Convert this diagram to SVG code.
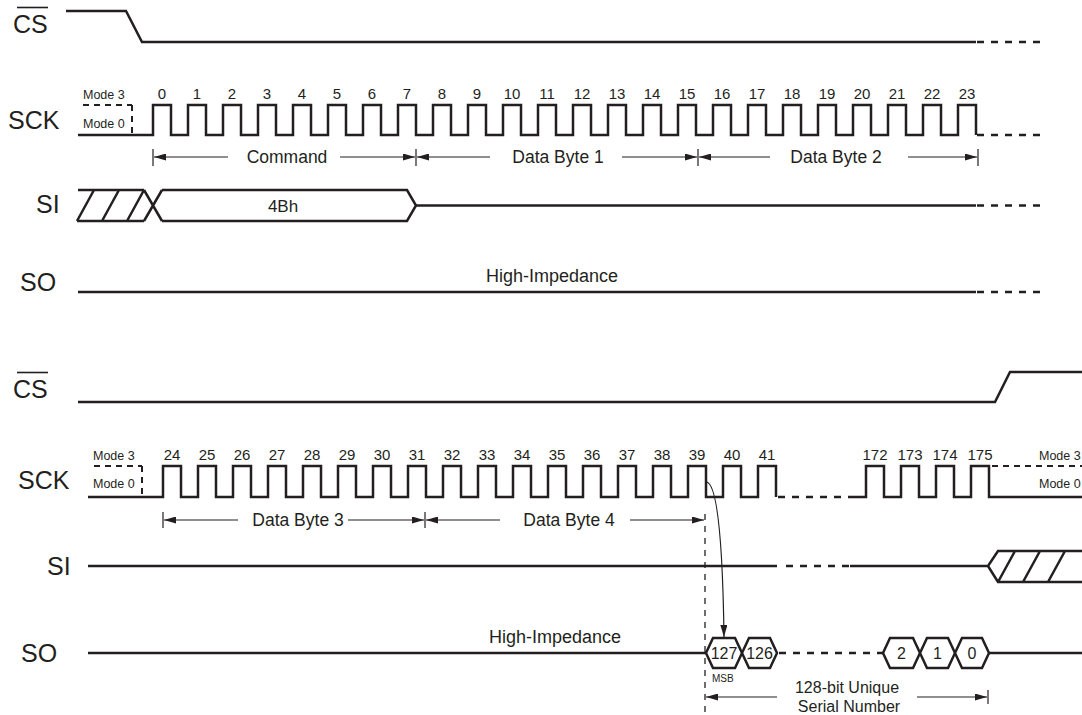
<svg xmlns="http://www.w3.org/2000/svg" width="1082" height="715" viewBox="0 0 1082 715">
<style>
text{font-family:"Liberation Sans",Arial,sans-serif;fill:#231f20}
.lbl{font-size:25px}
.num{font-size:15px;text-anchor:middle}
.mode{font-size:12.5px}
.dim{font-size:17.5px;text-anchor:middle}
.hz{font-size:18px;text-anchor:middle}
.hx{font-size:16px;text-anchor:middle}
.sig{fill:none;stroke:#231f20;stroke-width:2.5;stroke-linejoin:miter}
.dsh{fill:none;stroke:#231f20;stroke-width:2.5;stroke-dasharray:7 7}
.mdash{fill:none;stroke:#231f20;stroke-width:2;stroke-dasharray:6 5}
.ar{fill:none;stroke:#231f20;stroke-width:1.2;marker-end:url(#ah)}
.bar{fill:none;stroke:#231f20;stroke-width:1.2}
.vd{fill:none;stroke:#231f20;stroke-width:1.3;stroke-dasharray:6 6}
.hex{fill:#fff;stroke:#231f20;stroke-width:2.5;stroke-linejoin:miter}
</style>
<defs>
<marker id="ah" viewBox="0 0 12 7" refX="12" refY="3.5" markerWidth="12" markerHeight="7" markerUnits="userSpaceOnUse" orient="auto">
<path d="M0,0 L12,3.5 L0,7 z" fill="#231f20"/>
</marker>
</defs>
<rect width="1082" height="715" fill="#fff"/>

<g id="cs1">
<text class="lbl" x="13" y="33">CS</text>
<line x1="17" y1="7.5" x2="48" y2="7.5" stroke="#231f20" stroke-width="1.6"/>
<path class="sig" d="M66 11 H126 L142 42 H976"/>
<path class="dsh" d="M977 42 H1044"/>
</g>

<g id="sck1">
<text class="lbl" x="8" y="129">SCK</text>
<text class="mode" x="83" y="99">Mode 3</text>
<text class="mode" x="83" y="128">Mode 0</text>
<path class="mdash" d="M83 105 H132"/>
<path class="mdash" d="M132 105 V135" stroke-dasharray="5 4"/>
<path class="sig" d="M78 135 H153 V105 H171 V135 H188 V105 H206 V135 H223 V105 H241 V135 H258 V105 H276 V135 H293 V105 H311 V135 H328 V105 H346 V135 H363 V105 H381 V135 H398 V105 H416 V135 H433 V105 H451 V135 H468 V105 H486 V135 H503 V105 H521 V135 H538 V105 H556 V135 H573 V105 H591 V135 H608 V105 H626 V135 H643 V105 H661 V135 H678 V105 H696 V135 H713 V105 H731 V135 H748 V105 H766 V135 H783 V105 H801 V135 H818 V105 H836 V135 H853 V105 H871 V135 H888 V105 H906 V135 H923 V105 H941 V135 H958 V105 H976 V135"/>
<path class="dsh" d="M977 135 H1040"/>
<text class="num" x="162" y="99">0</text><text class="num" x="197" y="99">1</text><text class="num" x="232" y="99">2</text><text class="num" x="267" y="99">3</text><text class="num" x="302" y="99">4</text><text class="num" x="337" y="99">5</text><text class="num" x="372" y="99">6</text><text class="num" x="407" y="99">7</text><text class="num" x="442" y="99">8</text><text class="num" x="477" y="99">9</text><text class="num" x="512" y="99">10</text><text class="num" x="547" y="99">11</text><text class="num" x="582" y="99">12</text><text class="num" x="617" y="99">13</text><text class="num" x="652" y="99">14</text><text class="num" x="687" y="99">15</text><text class="num" x="722" y="99">16</text><text class="num" x="757" y="99">17</text><text class="num" x="792" y="99">18</text><text class="num" x="827" y="99">19</text><text class="num" x="862" y="99">20</text><text class="num" x="897" y="99">21</text><text class="num" x="932" y="99">22</text><text class="num" x="967" y="99">23</text>
</g>

<g id="si1">
<text class="lbl" x="36" y="213">SI</text>
<path class="sig" d="M78 190 H144 M77 221 H144 M77 221 L94 190 M102 221 L119 190 M127 221 L144 190 M144 190 L162 221 M144 221 L162 190"/>
<path class="sig" d="M162 190 H407 L416 205.5 L407 221 H162"/>
<text class="hx" x="283" y="211.5" style="font-size:17px">4Bh</text>
<path class="sig" d="M416 205.5 H976"/>
<path class="dsh" d="M977 205.5 H1040"/>
</g>

<g id="so1">
<text class="lbl" x="20" y="291">SO</text>
<path class="sig" d="M78 292 H976"/>
<path class="dsh" d="M977 292 H1040"/>
<text class="hz" x="552" y="282">High-Impedance</text>
</g>

<g id="cs2">
<text class="lbl" x="13" y="398">CS</text>
<line x1="17" y1="372.5" x2="48" y2="372.5" stroke="#231f20" stroke-width="1.6"/>
<path class="sig" d="M78 402 H995 L1010 372 H1082"/>
</g>

<g id="sck2">
<text class="lbl" x="18" y="489">SCK</text>
<text class="mode" x="93" y="460">Mode 3</text>
<text class="mode" x="93" y="488">Mode 0</text>
<path class="mdash" d="M94 466 H142"/>
<path class="mdash" d="M142 466 V497" stroke-dasharray="5 4"/>
<path class="sig" d="M88 497 H163 V466 H181 V497 H198 V466 H216 V497 H233 V466 H251 V497 H268 V466 H286 V497 H303 V466 H321 V497 H338 V466 H356 V497 H373 V466 H391 V497 H408 V466 H426 V497 H443 V466 H461 V497 H478 V466 H496 V497 H513 V466 H531 V497 H548 V466 H566 V497 H583 V466 H601 V497 H618 V466 H636 V497 H653 V466 H671 V497 H688 V466 H706 V497 H723 V466 H741 V497 H758 V466 H776 V497"/>
<path class="dsh" d="M778 497 H850"/>
<path class="sig" d="M850 497 H866 V466 H884 V497 H901 V466 H919 V497 H936 V466 H954 V497 H971 V466 H989 V497 H1082"/>
<path class="mdash" d="M992 466 H1082"/>
<text class="mode" x="1039" y="460">Mode 3</text>
<text class="mode" x="1039" y="488">Mode 0</text>
<text class="num" x="172" y="460">24</text><text class="num" x="207" y="460">25</text><text class="num" x="242" y="460">26</text><text class="num" x="277" y="460">27</text><text class="num" x="312" y="460">28</text><text class="num" x="347" y="460">29</text><text class="num" x="382" y="460">30</text><text class="num" x="417" y="460">31</text><text class="num" x="452" y="460">32</text><text class="num" x="487" y="460">33</text><text class="num" x="522" y="460">34</text><text class="num" x="557" y="460">35</text><text class="num" x="592" y="460">36</text><text class="num" x="627" y="460">37</text><text class="num" x="662" y="460">38</text><text class="num" x="697" y="460">39</text><text class="num" x="732" y="460">40</text><text class="num" x="767" y="460">41</text>
<text class="num" x="875" y="460">172</text><text class="num" x="910" y="460">173</text><text class="num" x="945" y="460">174</text><text class="num" x="980" y="460">175</text>
</g>

<g id="si2">
<text class="lbl" x="47" y="575">SI</text>
<path class="sig" d="M88 566 H777"/>
<path class="dsh" d="M786 566 H850"/>
<path class="sig" d="M850 566 H988 L998 551 H1082 M988 566 L998 582 H1082 M998 582 L1015 551 M1023 582 L1040 551 M1048 582 L1065 551"/>
</g>

<g id="so2">
<text class="lbl" x="21" y="662">SO</text>
<path class="sig" d="M88 653 H706"/>
<text class="hz" x="555" y="643">High-Impedance</text>
<polygon class="hex" points="706,653 713,638 735,638 742,653 735,668 713,668"/>
<polygon class="hex" points="742,653 749,638 770,638 777,653 770,668 749,668"/>
<text class="hx" x="724" y="659">127</text>
<text class="hx" x="759.5" y="659">126</text>
<text x="712" y="682" style="font-size:10px">MSB</text>
<path class="dsh" d="M779 653 H883" stroke-dasharray="8 7"/>
<polygon class="hex" points="883,653 890,638 913,638 920,653 913,668 890,668"/>
<polygon class="hex" points="920,653 927,638 948,638 955,653 948,668 927,668"/>
<polygon class="hex" points="955,653 962,638 982,638 989,653 982,668 962,668"/>
<text class="hx" x="901.5" y="659">2</text>
<text class="hx" x="937.5" y="659">1</text>
<text class="hx" x="972" y="659">0</text>
<path class="sig" d="M989 653 H1082"/>
</g>

<g id="connectors">
<line class="bar" x1="153" y1="149" x2="153" y2="166"/>
<line class="ar" x1="228" y1="157" x2="154" y2="157"/>
<text class="dim" x="287" y="163">Command</text>
<line class="ar" x1="340" y1="157" x2="415" y2="157"/>
<line class="bar" x1="416" y1="149" x2="416" y2="166"/>
<line class="ar" x1="490" y1="157" x2="417" y2="157"/>
<text class="dim" x="558" y="163">Data Byte 1</text>
<line class="ar" x1="622" y1="157" x2="697" y2="157"/>
<line class="bar" x1="698" y1="149" x2="698" y2="166"/>
<line class="ar" x1="770" y1="157" x2="699" y2="157"/>
<text class="dim" x="836" y="163">Data Byte 2</text>
<line class="ar" x1="908" y1="157" x2="977" y2="157"/>
<line class="bar" x1="978" y1="149" x2="978" y2="166"/>

<line class="bar" x1="163" y1="512" x2="163" y2="528"/>
<line class="ar" x1="238" y1="520" x2="164" y2="520"/>
<text class="dim" x="298" y="526">Data Byte 3</text>
<line class="ar" x1="348" y1="520" x2="424" y2="520"/>
<line class="bar" x1="425" y1="512" x2="425" y2="528"/>
<line class="ar" x1="500" y1="520" x2="426" y2="520"/>
<text class="dim" x="569" y="526">Data Byte 4</text>
<line class="ar" x1="630" y1="520" x2="704" y2="520"/>
<line class="vd" x1="705" y1="514" x2="705" y2="715"/>

<path class="ar" d="M707 482 Q722 488 724 637"/>

<line class="ar" x1="777" y1="697" x2="706" y2="697"/>
<text x="847" y="693" style="font-size:16px;text-anchor:middle">128-bit Unique</text>
<text x="849" y="712" style="font-size:16px;text-anchor:middle">Serial Number</text>
<line class="ar" x1="917" y1="697" x2="987" y2="697"/>
<line class="bar" x1="988" y1="690" x2="988" y2="704"/>
</g>
</svg>
